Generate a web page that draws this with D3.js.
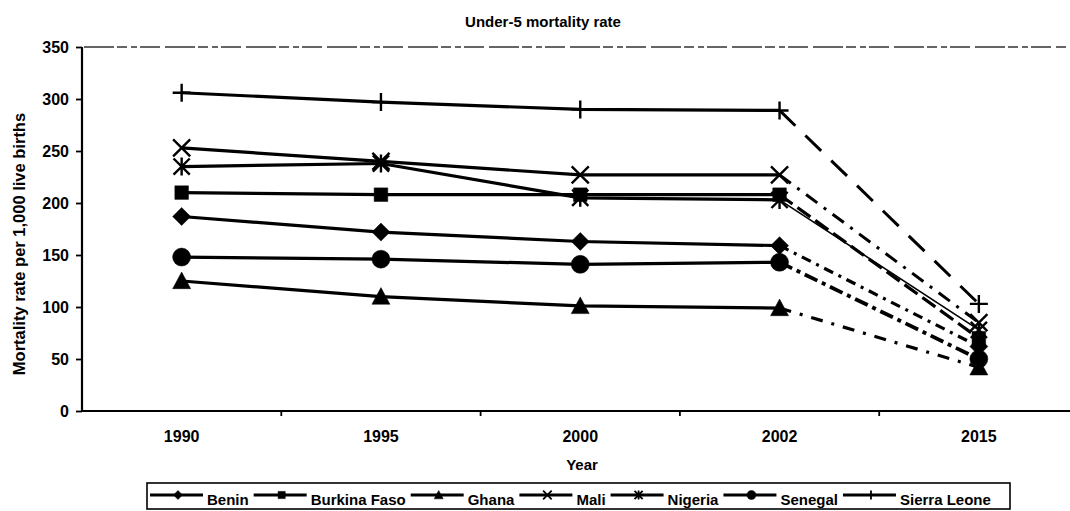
<!DOCTYPE html>
<html>
<head>
<meta charset="utf-8">
<script src="https://cdn.jsdelivr.net/npm/d3@7"></script>
<style>
  html, body { margin: 0; padding: 0; background: #fff; }
  svg { display: block; }
  text { font-family: Arial, "Liberation Sans", Helvetica, sans-serif; font-weight: bold; fill: #000; }
</style>
</head>
<body>
<svg id="chart" width="1070" height="511"></svg>
<script>
// ---------------- data ----------------
const years = ["1990", "1995", "2000", "2002", "2015"];
const seriesNames = ["Benin", "Burkina Faso", "Ghana", "Mali", "Nigeria", "Senegal", "Sierra Leone"];
const benin       = [187, 172, 163, 159, 62];
const burkinaFaso = [210, 208, 208, 208, 70];
const ghana       = [125, 110, 101, 99, 42];
const mali        = [253, 240, 227, 227, 85];
const nigeria     = [235, 238, 205, 203, 78];
const senegal     = [148, 146, 141, 143, 50];
const sierraLeone = [306, 297, 290, 289, 103];
const yTicks = [0, 50, 100, 150, 200, 250, 300, 350];
const titleText = "Under-5 mortality rate";
const xTitle = "Year";
const yTitle = "Mortality rate per 1,000 live births";

const seriesValues = [benin, burkinaFaso, ghana, mali, nigeria, senegal, sierraLeone];
const markers = ["diamond", "square", "triangle", "x", "asterisk", "circle", "plus"];
// projection segment (2002 -> 2015) dash patterns
const projDash = ["10,6,3,6", "16,6", "12,9,3,9", "14,8,3,8", null, "14,5,4,5", "22,14"];
const projWidth = [3.2, 3.2, 3.2, 3, 1.6, 3.8, 3];

(function () {
// ---------------- layout ----------------
const svg = d3.select("#chart");
const pLeft = 82, pTop = 47, pBottom = 411;
const step = 199.3;
const x = d3.scaleBand().domain(years).range([pLeft, pLeft + step * years.length]).padding(0);
const y = d3.scaleLinear().domain([0, 350]).range([pBottom, pTop]);
const cx = d => x(d) + x.bandwidth() / 2;

// marker path generator
function markerPath(type, s) {
  const h = s / 2;
  switch (type) {
    case "diamond": return `M0,${-h}L${h},0L0,${h}L${-h},0Z`;
    case "square": { const q = h * 0.8; return `M${-q},${-q}H${q}V${q}H${-q}Z`; }
    case "triangle": return `M0,${-h}L${h},${h * 0.85}L${-h},${h * 0.85}Z`;
    case "circle": return d3.symbol().type(d3.symbolCircle).size(Math.PI * h * h)();
    case "x": { const a = h * 0.95; return `M${-a},${-a}L${a},${a}M${a},${-a}L${-a},${a}`; }
    case "asterisk": { const a = h * 0.9; return `M${-a},${-a}L${a},${a}M${a},${-a}L${-a},${a}M0,${-h}L0,${h}`; }
    case "plus": return `M${-h},0L${h},0M0,${-h}L0,${h}`;
  }
}
const strokeMarker = t => t === "x" || t === "asterisk" || t === "plus";

// faint top border (scan gridline)
svg.append("line")
  .attr("x1", pLeft + 2).attr("x2", 1066)
  .attr("y1", y(350)).attr("y2", y(350))
  .attr("stroke", "#333").attr("stroke-width", 1.4)
  .attr("stroke-dasharray", "30,3,10,4,6,3,20,5");

// axes
const yAxis = svg.append("g").attr("transform", `translate(${pLeft},0)`)
  .call(d3.axisLeft(y).tickValues(yTicks).tickSize(6).tickPadding(7).tickFormat(d3.format("d")));
yAxis.select(".domain").attr("stroke", "#000").attr("stroke-width", 2.2).attr("d", `M0,${pTop}V${pBottom}`);
yAxis.selectAll(".tick line").attr("stroke", "#000").attr("stroke-width", 1.8);
yAxis.selectAll(".tick text").attr("font-size", 16).attr("font-weight", "bold")
  .attr("font-family", "Arial, 'Liberation Sans', sans-serif");

const xAxisG = svg.append("g").attr("transform", `translate(0,${pBottom})`);
xAxisG.append("line").attr("x1", pLeft).attr("x2", 1070).attr("y1", 0).attr("y2", 0)
  .attr("stroke", "#000").attr("stroke-width", 2.2);
const boundaries = years.slice(1).map(d => x(d));
xAxisG.selectAll("line.tk").data(boundaries).join("line").attr("class", "tk")
  .attr("x1", d => d).attr("x2", d => d).attr("y1", 0).attr("y2", 5)
  .attr("stroke", "#000").attr("stroke-width", 1.8);
xAxisG.selectAll("text.lbl").data(years).join("text").attr("class", "lbl")
  .attr("x", d => cx(d)).attr("y", 31).attr("text-anchor", "middle")
  .attr("font-size", 16).text(d => d);

// titles
svg.append("text").attr("x", 543).attr("y", 27).attr("text-anchor", "middle")
  .attr("font-size", 15).text(titleText);
svg.append("text").attr("x", 582).attr("y", 470).attr("text-anchor", "middle")
  .attr("font-size", 15).text(xTitle);
svg.append("text").attr("transform", `translate(25,244) rotate(-90)`).attr("text-anchor", "middle")
  .attr("font-size", 16.5).text(yTitle);

// series lines
const line = d3.line().x(d => cx(d.year)).y(d => y(d.v));
const seriesData = seriesNames.map((name, i) => ({
  name, marker: markers[i], dash: projDash[i], pw: projWidth[i],
  pts: years.map((yr, j) => ({ year: yr, v: seriesValues[i][j] }))
}));

const gLines = svg.append("g");
seriesData.forEach(s => {
  gLines.append("path").datum(s.pts.slice(0, 4)).attr("d", line)
    .attr("fill", "none").attr("stroke", "#000").attr("stroke-width", 3.2).attr("stroke-linejoin", "round");
  const p = gLines.append("path").datum(s.pts.slice(3)).attr("d", line)
    .attr("fill", "none").attr("stroke", "#000").attr("stroke-width", s.pw);
  if (s.dash) p.attr("stroke-dasharray", s.dash);
});

// markers
const gMarks = svg.append("g");
seriesData.forEach(s => {
  gMarks.selectAll(null).data(s.pts).join("path")
    .attr("transform", d => `translate(${cx(d.year)},${y(d.v)})`)
    .attr("d", markerPath(s.marker, s.marker === "square" ? 17 : 18))
    .attr("fill", strokeMarker(s.marker) ? "none" : "#000")
    .attr("stroke", "#000").attr("stroke-width", strokeMarker(s.marker) ? 2.4 : 0.5);
});

// legend
const legend = svg.append("g");
legend.append("rect").attr("x", 147).attr("y", 483).attr("width", 863).attr("height", 26)
  .attr("fill", "none").attr("stroke", "#000").attr("stroke-width", 1.6);
let lx = 150;
const ly = 495;
seriesData.forEach(s => {
  const g = legend.append("g");
  g.append("line").attr("x1", lx).attr("x2", lx + 53).attr("y1", ly).attr("y2", ly)
    .attr("stroke", "#000").attr("stroke-width", 3);
  g.append("path").attr("transform", `translate(${lx + 28},${ly})`)
    .attr("d", markerPath(s.marker, 9))
    .attr("fill", strokeMarker(s.marker) ? "none" : "#000")
    .attr("stroke", "#000").attr("stroke-width", strokeMarker(s.marker) ? 1.8 : 0.5);
  const t = g.append("text").attr("x", lx + 57).attr("y", ly + 10).attr("font-size", 15).text(s.name);
  lx += 57 + t.node().getComputedTextLength() + 5;
});
})();
</script>
</body>
</html>
